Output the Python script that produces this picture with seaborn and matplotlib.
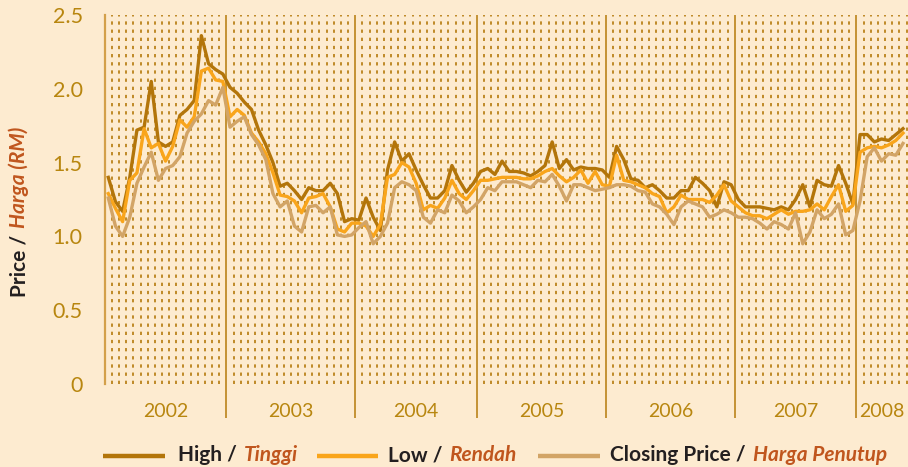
import numpy as np
import pandas as pd
import matplotlib
matplotlib.use("Agg")
import matplotlib.pyplot as plt
import seaborn as sns
from matplotlib.lines import Line2D

# ---------------- data ----------------
years = ["2002", "2003", "2004", "2005", "2006", "2007", "2008"]
points_per_year = [17, 18, 17, 18, 18, 17, 7]

high = [
    1.40, 1.235, 1.17, 1.40, 1.72, 1.74, 2.05, 1.64, 1.61, 1.64, 1.82, 1.86, 1.92, 2.36, 2.17, 2.13, 2.10,
    2.01, 1.97, 1.91, 1.86, 1.72, 1.62, 1.50, 1.34, 1.36, 1.31, 1.25, 1.33, 1.31, 1.31, 1.36, 1.29, 1.10, 1.12,
    1.11, 1.26, 1.13, 1.04, 1.45, 1.64, 1.51, 1.56, 1.45, 1.35, 1.26, 1.26, 1.31, 1.48, 1.38, 1.30, 1.36,
    1.44, 1.46, 1.42, 1.51, 1.44, 1.44, 1.43, 1.41, 1.44, 1.48, 1.64, 1.46, 1.52, 1.45, 1.47, 1.46, 1.46, 1.45,
    1.40, 1.61, 1.52, 1.39, 1.38, 1.33, 1.35, 1.31, 1.26, 1.26, 1.31, 1.31, 1.40, 1.36, 1.31, 1.20, 1.37, 1.35,
    1.25, 1.20, 1.20, 1.20, 1.19, 1.18, 1.20, 1.18, 1.25, 1.35, 1.20, 1.38, 1.35, 1.34, 1.48, 1.36, 1.22,
    1.69, 1.69, 1.64, 1.66, 1.65, 1.69, 1.73,
]
low = [
    1.29, 1.19, 1.10, 1.38, 1.43, 1.73, 1.60, 1.63, 1.51, 1.61, 1.79, 1.74, 1.81, 2.12, 2.14, 2.06, 2.05,
    1.81, 1.86, 1.82, 1.70, 1.64, 1.56, 1.43, 1.28, 1.27, 1.24, 1.16, 1.26, 1.27, 1.29, 1.20, 1.05, 1.03, 1.09,
    1.09, 1.07, 1.00, 1.08, 1.40, 1.42, 1.50, 1.47, 1.36, 1.18, 1.21, 1.19, 1.26, 1.38, 1.29, 1.25, 1.31,
    1.38, 1.38, 1.39, 1.40, 1.40, 1.40, 1.39, 1.39, 1.41, 1.44, 1.46, 1.41, 1.37, 1.40, 1.45, 1.36, 1.44, 1.35,
    1.34, 1.55, 1.38, 1.37, 1.35, 1.33, 1.29, 1.27, 1.16, 1.20, 1.28, 1.25, 1.25, 1.25, 1.23, 1.28, 1.35, 1.24,
    1.20, 1.16, 1.14, 1.14, 1.12, 1.15, 1.18, 1.15, 1.17, 1.17, 1.18, 1.22, 1.18, 1.27, 1.35, 1.17, 1.21,
    1.57, 1.60, 1.61, 1.60, 1.62, 1.65, 1.70,
]
closing = [
    1.26, 1.07, 1.00, 1.13, 1.36, 1.47, 1.57, 1.38, 1.46, 1.48, 1.54, 1.70, 1.78, 1.83, 1.92, 1.89, 2.01,
    1.74, 1.78, 1.81, 1.69, 1.62, 1.52, 1.29, 1.20, 1.24, 1.07, 1.03, 1.20, 1.21, 1.16, 1.20, 1.01, 1.00, 1.01,
    1.06, 1.10, 0.95, 1.00, 1.09, 1.33, 1.37, 1.35, 1.31, 1.13, 1.09, 1.18, 1.16, 1.28, 1.24, 1.16, 1.20,
    1.25, 1.33, 1.31, 1.37, 1.37, 1.37, 1.35, 1.33, 1.38, 1.37, 1.42, 1.34, 1.24, 1.35, 1.35, 1.33, 1.31, 1.32,
    1.33, 1.35, 1.35, 1.34, 1.31, 1.30, 1.22, 1.20, 1.15, 1.08, 1.20, 1.24, 1.22, 1.20, 1.13, 1.15, 1.18, 1.16,
    1.13, 1.13, 1.12, 1.09, 1.05, 1.10, 1.08, 1.05, 1.16, 0.95, 1.03, 1.18, 1.12, 1.15, 1.22, 1.01, 1.04,
    1.24, 1.54, 1.60, 1.51, 1.56, 1.55, 1.63,
]

series_names = ["High", "Low", "Closing Price"]
legend_en = ["High /", "Low /", "Closing Price /"]
legend_ms = ["Tinggi", "Rendah", "Harga Penutup"]
ylabel_en = "Price /"
ylabel_ms = "Harga (RM)"
yticks = [0, 0.5, 1.0, 1.5, 2.0, 2.5]
ytick_labels = ["0", "0.5", "1.0", "1.5", "2.0", "2.5"]

# ---------------- style ----------------
BG = "#FDEBD0"
C_HIGH = "#B3750A"
C_LOW = "#F9A51B"
C_CLOSE = "#D2A466"
GOLD = "#B8860F"
DOT = "#BF8A28"
SEP = "#C08B28"
DARK = "#231F20"
RUST = "#C0561E"

plt.rcParams["font.family"] = ["Lato", "DejaVu Sans"]

n = len(high)
period = np.arange(n)
df = pd.concat([
    pd.DataFrame({"period": period, "price": vals, "series": name})
    for name, vals in zip(series_names, [high, low, closing])
], ignore_index=True)

W, H = 908, 467
fig = plt.figure(figsize=(W / 100, H / 100), dpi=100, facecolor=BG)
ax = fig.add_axes([105 / W, 83 / H, 803 / W, 369 / H])
ax.set_facecolor(BG)

xmin, xmax = -0.46, n - 0.3
ax.set_xlim(xmin, xmax)
ax.set_ylim(0, 2.5)

bounds = list(np.cumsum(points_per_year)[:-1] - 0.5)

# dotted vertical grid between periods
for k in range(n):
    xv = k + 0.5
    if any(abs(xv - b) < 1e-6 for b in bounds):
        continue
    ax.axvline(xv, color=DOT, lw=1.4, ls=(0, (1.7, 2.5)), zorder=1)

# year separators (extend below axis)
for b in bounds:
    ax.plot([b, b], [-0.23, 2.5], color=SEP, lw=1.3, clip_on=False, zorder=2,
            solid_capstyle="butt")

sns.lineplot(data=df, x="period", y="price", hue="series", hue_order=series_names,
             palette=[C_HIGH, C_LOW, C_CLOSE], linewidth=2.4, legend=False, ax=ax,
             zorder=3)

# axes cosmetics
for s in ["top", "right", "bottom"]:
    ax.spines[s].set_visible(False)
ax.spines["left"].set_color("#D3A04A")
ax.spines["left"].set_linewidth(1.6)
ax.set_xticks([])
ax.set_yticks(yticks)
ax.set_yticklabels(ytick_labels, fontsize=15.5, color=GOLD)
ax.tick_params(axis="y", length=0, pad=16)
ax.set_xlabel("")
ax.set_ylabel("")

# year labels centred between separators
edges = [xmin] + bounds + [xmax]
for i, yr in enumerate(years):
    ax.text((edges[i] + edges[i + 1]) / 2, -0.183, yr, ha="center", va="center",
            fontsize=14, color=GOLD, clip_on=False)

fig.canvas.draw()
renderer = fig.canvas.get_renderer()

def chained(x_px, y_px, first, second, size, rotation=0):
    if rotation == 0:
        t1 = fig.text(x_px / W, 1 - y_px / H, first, fontsize=size, fontweight="bold",
                      color=DARK, ha="left", va="center")
        bb = t1.get_window_extent(renderer)
        fig.text((bb.x1 + 7) / W, 1 - y_px / H, second, fontsize=size, fontweight="bold",
                 fontstyle="italic", color=RUST, ha="left", va="center")
    else:
        t1 = fig.text(x_px / W, 1 - y_px / H, first, fontsize=size, fontweight="bold",
                      color=DARK, ha="left", va="center", rotation=90,
                      rotation_mode="anchor")
        bb = t1.get_window_extent(renderer)
        fig.text(x_px / W, (bb.y1 + 7) / H, second, fontsize=size, fontweight="bold",
                 fontstyle="italic", color=RUST, ha="left", va="center", rotation=90,
                 rotation_mode="anchor")

# y label
chained(19, 297, ylabel_en, ylabel_ms, 15, rotation=90)

# legend
legend_lines = [(103, 165), (317, 378), (538, 600)]
legend_text_x = [178, 388, 610]
for (x0, x1), tx, en, ms, c in zip(legend_lines, legend_text_x, legend_en, legend_ms,
                                   [C_HIGH, C_LOW, C_CLOSE]):
    fig.add_artist(Line2D([x0 / W, x1 / W], [1 - 456 / H, 1 - 456 / H], color=c, lw=3.2,
                          transform=fig.transFigure, solid_capstyle="butt"))
    chained(tx, 455, en, ms, 15)

fig.savefig("out.png", dpi=100, facecolor=BG)
